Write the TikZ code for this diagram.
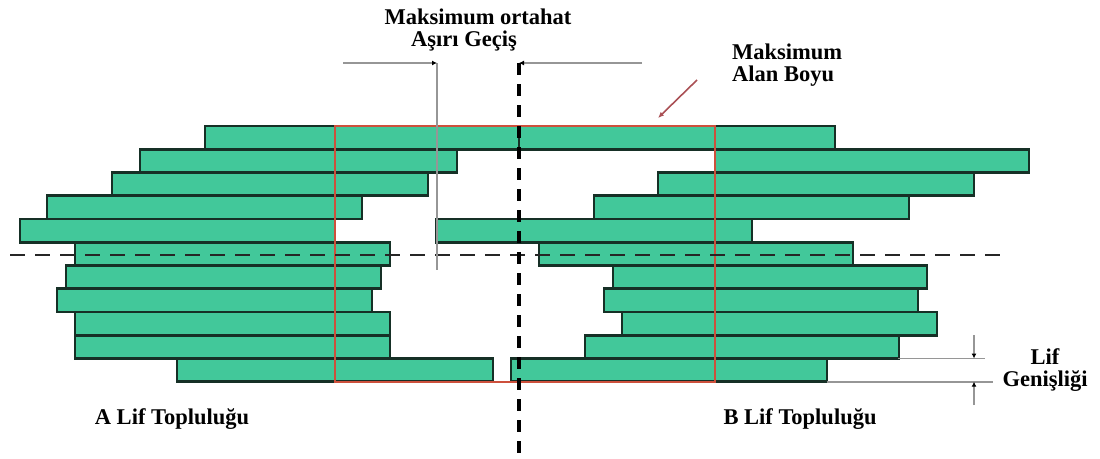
\documentclass[tikz,border=0pt]{standalone}
\usepackage{fontspec}
\setmainfont{Liberation Serif}
\usetikzlibrary{arrows.meta}
\definecolor{fibgreen}{RGB}{66,200,154}
\definecolor{fibedge}{RGB}{22,48,38}
\definecolor{redline}{RGB}{205,80,60}
\definecolor{arrowred}{RGB}{170,80,85}
\definecolor{dimgray}{RGB}{150,150,150}
\tikzset{
  fiber/.style={fill=fibgreen,draw=fibedge,line width=2.8pt},
  lbl/.style={font=\fontsize{22.5}{22}\selectfont\bfseries,align=center,inner sep=0pt},
  dimline/.style={draw=dimgray,line width=1.6pt},
  tiparrow/.style={-{Latex[length=5pt,width=5pt,black]}},
}
\begin{document}
\begin{tikzpicture}[x=1pt,y=-1pt]
\useasboundingbox (0,0) rectangle (1100,458);
% A fibres
\foreach \t/\a/\b in {126/205/519,149.3/140/457,172.5/112/428,195.8/47/362,219/20/335,242.3/75/390,265.5/66/381,288.8/57/372,312/75/390,335.3/75/390,358.5/177/493}{
  \path[fiber] (\a,\t) rectangle (\b,\t+23.2);
}
% B fibres
\foreach \t/\a/\b in {126/519/835,149.3/715/1029,172.5/658/974,195.8/594/909,219/436/752,242.3/539/853,265.5/613/927,288.8/604/918,312/622/937,335.3/585/899,358.5/511/827}{
  \path[fiber] (\a,\t) rectangle (\b,\t+23.2);
}
% maximum field length rectangle
\coordinate (r1) at (335,126);
\coordinate (r2) at (715,381.7);
\draw[redline,line width=2.4pt] (r1) rectangle (r2);
% horizontal dashed centre line
\coordinate (h1) at (10,255);
\coordinate (h2) at (1003,255);
\draw[black!85,line width=2.6pt,dash pattern=on 15pt off 10pt] (h1) -- (h2);
% vertical dashed centre line
\coordinate (v1) at (519,63);
\coordinate (v2) at (519,458);
\draw[black,line width=4pt,dash pattern=on 12pt off 9pt] (v1) -- (v2);
% overlap dimension
\coordinate (o1) at (437,63);
\coordinate (o2) at (437,270);
\coordinate (o3) at (343,63);
\coordinate (o4) at (642,63);
\draw[dimline] (o1) -- (o2);
\draw[dimline,tiparrow] (o3) -- (o1);
\draw[dimline,tiparrow] (o4) -- (v1);
\node[lbl] (ovl) at (478,30) {Maksimum ortahat\\\hspace*{-28pt}Aşırı Geçiş};
% maximum field length label
\node[lbl,align=left,anchor=north west] (mfl) at (732,44) {Maksimum\\Alan Boyu};
\coordinate (ma1) at (697,80);
\coordinate (ma2) at (658,118);
\draw[arrowred,line width=1.6pt,-{Latex[length=6pt,width=5pt]}] (ma1) -- (ma2);
% fibre width dimension
\coordinate (w1) at (898,358.5);
\coordinate (w2) at (985,358.5);
\coordinate (w3) at (827,381.7);
\coordinate (w4) at (993,381.7);
\draw[dimline] (w1) -- (w2);
\draw[dimline] (w3) -- (w4);
\coordinate (d1) at (974,335);
\coordinate (d2) at (974,358.5);
\coordinate (d3) at (974,405);
\coordinate (d4) at (974,381.7);
\draw[dimline,tiparrow] (d1) -- (d2);
\draw[dimline,tiparrow] (d3) -- (d4);
\node[lbl] (lw) at (1045,370) {Lif\\Genişliği};
% group labels
\node[lbl] (ga) at (172,419) {A Lif Topluluğu};
\node[lbl] (gb) at (800,419) {B Lif Topluluğu};
\end{tikzpicture}
\end{document}
